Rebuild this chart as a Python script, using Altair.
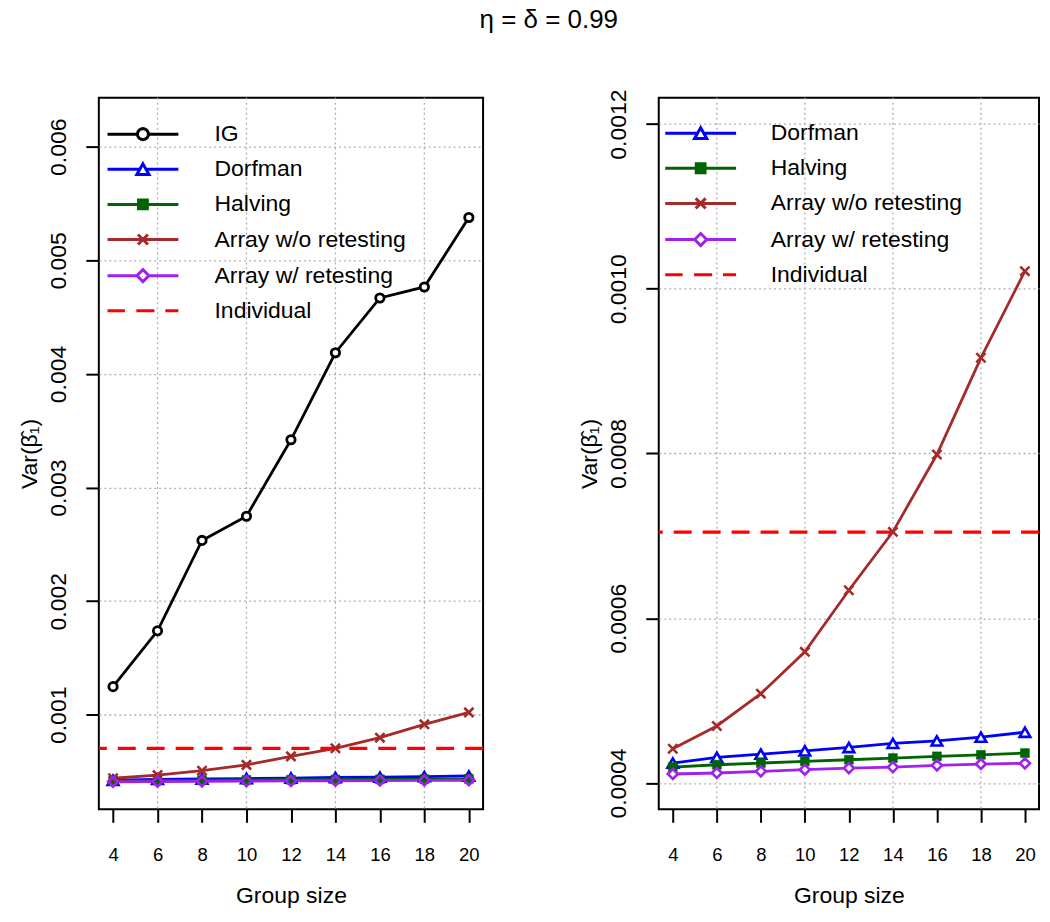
import math
import altair as alt
import pandas as pd

# ---------------- data ----------------
group_sizes = [4, 6, 8, 10, 12, 14, 16, 18, 20]
ig_values = [0.001248, 0.001739, 0.002535, 0.002748, 0.003421, 0.004187, 0.004669, 0.004766, 0.005377]
dorfman_values = [0.0004242, 0.0004311, 0.0004350, 0.0004390, 0.0004431, 0.0004480, 0.0004511, 0.0004556, 0.0004616]
halving_values = [0.0004193, 0.0004221, 0.0004242, 0.0004262, 0.0004282, 0.0004302, 0.0004323, 0.0004342, 0.0004363]
array_wo_values = [0.0004415, 0.0004692, 0.0005084, 0.0005592, 0.0006340, 0.0007049, 0.0007988, 0.0009162, 0.0010214]
array_w_values = [0.0004109, 0.0004121, 0.0004141, 0.0004161, 0.0004181, 0.0004193, 0.0004214, 0.0004230, 0.0004238]
individual_value = 0.0007045

series_names = ["IG", "Dorfman", "Halving", "Array w/o retesting", "Array w/ retesting", "Individual"]
series_colors = ["#000000", "#0000FF", "#006400", "#A52A2A", "#A020F0", "#FF0000"]
series_values = {
    "IG": ig_values,
    "Dorfman": dorfman_values,
    "Halving": halving_values,
    "Array w/o retesting": array_wo_values,
    "Array w/ retesting": array_w_values,
}

x_tick_values = [4, 6, 8, 10, 12, 14, 16, 18, 20]
x_grid_values = [6, 10, 14, 18]
left_y_ticks = [0.001, 0.002, 0.003, 0.004, 0.005, 0.006]
right_y_ticks = [0.0004, 0.0006, 0.0008, 0.0010, 0.0012]
left_ylim = [0.0004, 0.0062]
right_ylim = [0.0004, 0.0012]

FONT = "Liberation Sans, Arial, DejaVu Sans"
GRID_COLOR = "#b0b0b0"

# ---------------- legend symbol paths (line + marker), drawn in px / 10 ----------------
U = 10.0  # one path unit in pixels (legend symbolSize = (2*U)^2)


def _p(v):
    return f"{v / U:.4f}"


def circle_path(r, n=20):
    pts = [(r * math.cos(2 * math.pi * k / n), r * math.sin(2 * math.pi * k / n)) for k in range(n)]
    return "M" + "L".join(f"{_p(x)},{_p(y)}" for x, y in pts) + "Z"


L = 35.5
legend_paths = {
    "IG": f"M{_p(-L)},0H{_p(-5.7)}M{_p(5.7)},0H{_p(L)}" + circle_path(5.5),
    "Dorfman": f"M{_p(-L)},0H{_p(-3.7)}M{_p(3.7)},0H{_p(L)}M0,{_p(-5.4)}L{_p(6.1)},{_p(5.3)}L{_p(-6.1)},{_p(5.3)}Z",
    "Halving": (
        f"M{_p(-L)},0H{_p(L)}M{_p(-4.4)},{_p(-4.4)}H{_p(4.4)}V{_p(4.4)}H{_p(-4.4)}Z"
        f"M{_p(-4.4)},{_p(-2.1)}H{_p(4.4)}M{_p(-4.4)},{_p(2.1)}H{_p(4.4)}"
    ),
    "Array w/o retesting": f"M{_p(-L)},0H{_p(L)}M{_p(-5)},{_p(-5)}L{_p(5)},{_p(5)}M{_p(-5)},{_p(5)}L{_p(5)},{_p(-5)}",
    "Array w/ retesting": f"M{_p(-L)},0H{_p(-6)}M{_p(6)},0H{_p(L)}M{_p(-6)},0L0,{_p(-6)}L{_p(6)},0L0,{_p(6)}Z",
    "Individual": f"M{_p(-L)},0H{_p(-18.1)}M{_p(-6.6)},0H{_p(11.5)}M{_p(22.4)},0H{_p(L)}",
}

CROSS_PATH = "M-1,-1L1,1M-1,1L1,-1"


def panel(names, y_ticks, ylim, y_format, open_fill, width, leg_offset, sym_offset, lab_offset):
    colors = [series_colors[series_names.index(n)] for n in names]
    lo, hi = ylim
    ypad = 0.04 * (hi - lo)
    x_lo, x_hi = min(group_sizes), max(group_sizes)
    xpad = 0.04 * (x_hi - x_lo)

    x_enc = alt.X(
        "size:Q",
        scale=alt.Scale(domain=[x_lo - xpad, x_hi + xpad], nice=False, zero=False),
        axis=alt.Axis(values=x_tick_values, title="Group size", format="d"),
    )
    y_enc = alt.Y(
        "value:Q",
        scale=alt.Scale(domain=[lo - ypad, hi + ypad], nice=False, zero=False),
        axis=alt.Axis(values=y_ticks, format=y_format, title="Var(β\u0302\u2081)"),
    )
    color_scale = alt.Scale(domain=names, range=colors)

    rows = []
    for n in names:
        if n == "Individual":
            continue
        for s, v in zip(group_sizes, series_values[n]):
            rows.append({"size": s, "value": v, "series": n})
    df = pd.DataFrame(rows)

    layers = []
    # layer without drawable rows (missing y) that only carries the legend (first, so its legend wins)
    legend_df = pd.DataFrame({"size": [group_sizes[0]] * len(names), "value": [None] * len(names), "series": names})
    leg = alt.Legend(
        orient="top-left",
        offset=leg_offset,
        title=None,
        labelFont=FONT,
        labelFontSize=23,
        labelColor="black",
        labelOffset=lab_offset,
        labelLimit=500,
        symbolSize=(2 * U) ** 2,
        symbolStrokeWidth=3,
        symbolOffset=sym_offset,
        rowPadding=11.2,
        padding=0,
    )
    layers.append(
        alt.Chart(legend_df)
        .mark_point(filled=False, opacity=1)
        .encode(
            x=x_enc,
            y=y_enc,
            color=alt.Color("series:N", scale=color_scale, legend=leg),
            shape=alt.Shape("series:N", scale=alt.Scale(domain=names, range=[legend_paths[n] for n in names]), legend=leg),
        )
    )
    # vertical dotted grid
    layers.append(
        alt.Chart(pd.DataFrame({"size": x_grid_values}))
        .mark_rule(color=GRID_COLOR, strokeDash=[2, 3], strokeWidth=1.3)
        .encode(x=x_enc)
    )
    # lines
    layers.append(
        alt.Chart(df)
        .mark_line(strokeWidth=2.8)
        .encode(x=x_enc, y=y_enc, color=alt.Color("series:N", scale=color_scale))
    )
    # individual testing reference line
    layers.append(
        alt.Chart(pd.DataFrame({"value": [individual_value]}))
        .mark_rule(color="#FF0000", strokeDash=[18, 11], strokeWidth=3.2)
        .encode(y=y_enc)
    )
    # markers
    for n in names:
        if n == "Individual":
            continue
        c = series_colors[series_names.index(n)]
        sub = df[df["series"] == n]
        if n == "IG":
            mk = dict(shape="circle", size=70, filled=True, fill="white", stroke=c, strokeWidth=2.8)
        elif n == "Dorfman":
            mk = dict(shape="triangle-up", size=115, strokeWidth=2.6, stroke=c)
            mk.update(dict(filled=True, fill="white") if open_fill else dict(filled=False, fill="transparent"))
        elif n == "Halving":
            mk = dict(shape="square", size=81, filled=True, fill=c, stroke=c, strokeWidth=0.5)
        elif n == "Array w/o retesting":
            mk = dict(shape=CROSS_PATH, size=85, filled=False, stroke=c, strokeWidth=2.6)
        else:
            mk = dict(shape="diamond", size=100, strokeWidth=2.6, stroke=c)
            mk.update(dict(filled=True, fill="white") if open_fill else dict(filled=False, fill="transparent"))
        layers.append(alt.Chart(sub).mark_point(opacity=1, **mk).encode(x=x_enc, y=y_enc))

    return alt.layer(*layers).properties(width=width, height=713)


left = panel(series_names, left_y_ticks, left_ylim, ".3f", False, 385, 24.8, 7.7, 60.2)
right = panel(series_names[1:], right_y_ticks, right_ylim, ".4f", True, 381, 23.8, 6.5, 58.7)

chart = (
    alt.hconcat(left, right, spacing=92)
    .resolve_scale(color="independent", shape="independent", x="independent", y="independent")
    .resolve_legend(color="independent", shape="independent")
    .properties(
        title=alt.TitleParams(
            text="η = δ = 0.99",
            font=FONT,
            fontSize=26,
            fontWeight="normal",
            color="black",
            anchor="middle",
            baseline="alphabetic",
            offset=34,
            dx=19,
        ),
        padding={"left": 10, "top": -2, "right": 0, "bottom": 0},
        background="white",
    )
    .configure_view(stroke="black", strokeWidth=2)
    .configure_axis(
        labelFont=FONT,
        titleFont=FONT,
        titleFontSize=23,
        titleFontWeight="normal",
        labelColor="black",
        titleColor="black",
        tickColor="black",
        tickSize=13,
        tickWidth=2,
        domain=False,
        grid=False,
        labelFlush=False,
        labelOverlap=False,
    )
    .configure_axisX(labelFontSize=18.5, labelPadding=23, titlePadding=21)
    .configure_axisY(
        labelFontSize=23,
        labelAngle=270,
        labelAlign="center",
        labelBaseline="bottom",
        labelPadding=15,
        titlePadding=6,
        grid=True,
        gridColor=GRID_COLOR,
        gridDash=[2, 3],
        gridWidth=1.3,
    )
)

chart.save("out.html", embed_options={"renderer": "svg", "actions": False})
